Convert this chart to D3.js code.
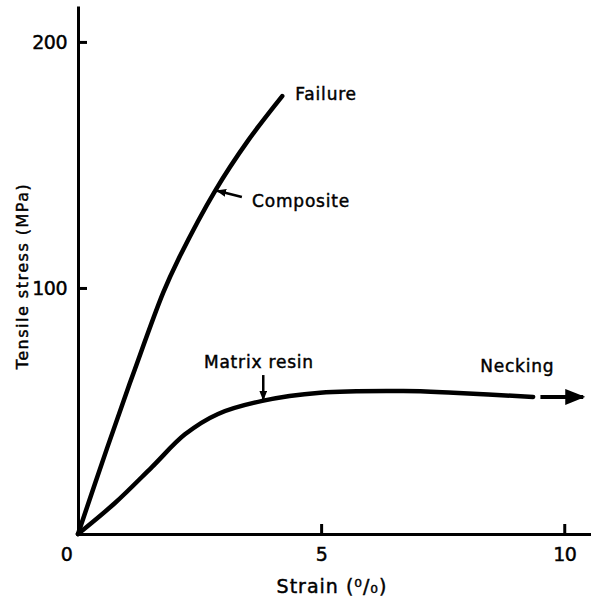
<!DOCTYPE html>
<html>
<head>
<meta charset="utf-8">
<script src="https://cdn.jsdelivr.net/npm/d3@7"></script>
<style>
  html, body { margin: 0; padding: 0; background: #fff; }
  svg { display: block; }
  text { font-family: "DejaVu Sans", sans-serif; fill: #000; stroke: #000; stroke-width: 0.45px; }
</style>
</head>
<body>
<div id="chart"></div>
<script>
// strain (%) vs tensile stress (MPa)
const compositeStrain = [0, 0.6, 1.17, 1.75, 2.06, 2.82, 3.5, 4.2];
const compositeStress = [0, 35, 67, 98, 111.5, 139.5, 160, 178];

const resinStrain = [0, 0.76, 1.52, 2.2, 2.88, 3.79, 4.98, 6.69, 7.72, 9.36];
const resinStress = [0, 12.6, 27.2, 40.5, 48.8, 54.1, 57.4, 58.1, 57.4, 55.7];

const xTicks = [0, 5, 10];
const yTicks = [100, 200];

// annotation texts and arrows (data coords)
const noteText = ['Failure', 'Composite', 'Matrix resin', 'Necking'];
const noteX = [4.47, 3.58, 2.59, 8.27];
const noteY = [176.4, 132.9, 67.5, 65.9];

const arrowFrom = [[3.37, 137], [3.81, 64.6], [9.51, 55.7]];
const arrowTo = [[2.86, 139.5], [3.81, 54.6], [10.39, 55.7]];

const svgWidth = 591,
      svgHeight = 599;

const svg = d3.select('#chart')
  .append('svg')
  .attr('width', svgWidth)
  .attr('height', svgHeight);

const x = d3.scaleLinear().domain([0, 10.55]).range([78, 591]);
const y = d3.scaleLinear().domain([0, 214.6]).range([534, 6]);

const defs = svg.append('defs');
[['head', 4], ['bighead', 5]].forEach(([id, size]) => {
  defs.append('marker')
    .attr('id', id)
    .attr('viewBox', '0 0 10 10')
    .attr('refX', 9).attr('refY', 5)
    .attr('markerWidth', size).attr('markerHeight', size * 0.8)
    .attr('markerUnits', 'strokeWidth')
    .attr('orient', 'auto')
    .attr('preserveAspectRatio', 'none')
    .append('path')
    .attr('d', 'M0,0 L10,5 L0,10 Z')
    .attr('fill', '#000');
});

// x axis
const xAxis = d3.axisBottom(x)
  .tickValues(xTicks)
  .tickSizeInner(-10)
  .tickSizeOuter(0)
  .tickPadding(14);

const gx = svg.append('g')
  .attr('transform', `translate(0,${y(0)})`)
  .call(xAxis);

// y axis
const yAxis = d3.axisLeft(y)
  .tickValues(yTicks)
  .tickSizeInner(-9)
  .tickSizeOuter(0)
  .tickPadding(11);

const gy = svg.append('g')
  .attr('transform', `translate(${x(0)},0)`)
  .call(yAxis);

[gx, gy].forEach(g => {
  g.select('.domain').attr('stroke', '#000').attr('stroke-width', 3);
  g.selectAll('.tick line').attr('stroke', '#000').attr('stroke-width', 3);
  g.selectAll('.tick text')
    .attr('font-family', '"DejaVu Sans", sans-serif')
    .attr('font-size', 19)
    .attr('letter-spacing', -0.5)
    .attr('fill', '#000');
});

// the origin label sits left of the corner
gx.selectAll('.tick').filter(d => d === 0).select('line').remove();
gx.selectAll('.tick').filter(d => d === 0).select('text').attr('x', -12);
gy.selectAll('.tick text').attr('dy', '0.36em');

// axis titles
svg.append('text')
  .attr('x', 332)
  .attr('y', 593)
  .attr('text-anchor', 'middle')
  .attr('font-size', 19)
  .attr('letter-spacing', 1)
  .text('Strain (⁰/₀)');

svg.append('text')
  .attr('transform', 'translate(28,276) rotate(-90)')
  .attr('text-anchor', 'middle')
  .attr('font-size', 16)
  .attr('letter-spacing', 1.5)
  .text('Tensile stress (MPa)');

// curves
const line = d3.line()
  .x(d => x(d[0]))
  .y(d => y(d[1]))
  .curve(d3.curveCatmullRom.alpha(0.5));

svg.append('path')
  .datum(d3.zip(compositeStrain, compositeStress))
  .attr('d', line)
  .attr('fill', 'none')
  .attr('stroke', '#000')
  .attr('stroke-width', 4.5)
  .attr('stroke-linecap', 'round');

svg.append('path')
  .datum(d3.zip(resinStrain, resinStress))
  .attr('d', line)
  .attr('fill', 'none')
  .attr('stroke', '#000')
  .attr('stroke-width', 4.5)
  .attr('stroke-linecap', 'round');

// arrows
svg.selectAll('.arrow')
  .data(d3.zip(arrowFrom, arrowTo))
  .enter()
  .append('line')
  .attr('class', 'arrow')
  .attr('x1', d => x(d[0][0]))
  .attr('y1', d => y(d[0][1]))
  .attr('x2', d => x(d[1][0]))
  .attr('y2', d => y(d[1][1]))
  .attr('stroke', '#000')
  .attr('stroke-width', (d, i) => i === 2 ? 4 : 2.5)
  .attr('marker-end', (d, i) => i === 2 ? 'url(#bighead)' : 'url(#head)');

// labels
svg.selectAll('.note')
  .data(noteText)
  .enter()
  .append('text')
  .attr('class', 'note')
  .attr('x', (d, i) => x(noteX[i]))
  .attr('y', (d, i) => y(noteY[i]))
  .attr('font-size', 17)
  .attr('letter-spacing', 0.8)
  .text(d => d);
</script>
</body>
</html>
